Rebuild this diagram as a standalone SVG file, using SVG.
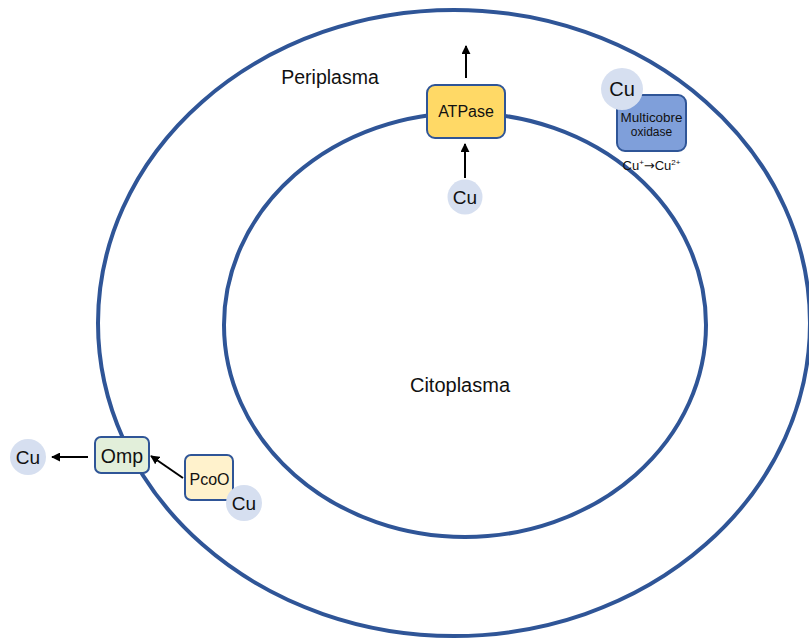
<svg xmlns="http://www.w3.org/2000/svg" width="809" height="640" viewBox="0 0 809 640">
<defs>
<style>
.mem{fill:none;stroke:#2F5597;stroke-width:4}
.box{stroke:#2F5597;stroke-width:2}
.cu{fill:#D6DFF0}
.t{font-family:"Liberation Sans",Arial,sans-serif;fill:#111;text-anchor:middle}
.con{stroke:#000;stroke-width:2;fill:none;marker-end:url(#ah)}
</style>
<marker id="ah" viewBox="0 0 10 10" refX="9" refY="5" markerWidth="4.5" markerHeight="4.5" orient="auto" markerUnits="strokeWidth">
<path d="M0,0 L10,5 L0,10 Z" fill="#000"/>
</marker>
</defs>
<rect width="809" height="640" fill="#fff"/>
<g id="membranes">
<ellipse class="mem" cx="454" cy="323" rx="356" ry="313"/>
<ellipse class="mem" cx="465" cy="325" rx="241" ry="212"/>
</g>
<g id="labels">
<text class="t" x="330" y="84" font-size="19.5">Periplasma</text>
<text class="t" x="460" y="392" font-size="20">Citoplasma</text>
</g>
<g id="connectors">
<line class="con" x1="466" y1="78" x2="466" y2="46"/>
<line class="con" x1="465" y1="178" x2="465" y2="144"/>
<line class="con" x1="88" y1="457" x2="52" y2="457"/>
<line class="con" x1="183" y1="478" x2="151" y2="456"/>
</g>
<g id="atpase">
<rect class="box" x="427" y="85" width="78" height="53" rx="8" fill="#FFD966"/>
<text class="t" x="466" y="117" font-size="16">ATPase</text>
</g>
<g id="cu-atpase">
<circle class="cu" cx="465" cy="197" r="17.5"/>
<text class="t" x="465" y="204" font-size="19">Cu</text>
</g>
<g id="multicobre">
<rect class="box" x="617" y="95" width="69" height="56" rx="8" fill="#7F9FDA"/>
<text class="t" x="651.5" y="122" font-size="12" textLength="62" lengthAdjust="spacingAndGlyphs">Multicobre</text>
<text class="t" x="651.5" y="136" font-size="12">oxidase</text>
</g>
<g id="cu-multicobre">
<circle class="cu" cx="622" cy="89" r="21"/>
<text class="t" x="622" y="96" font-size="20">Cu</text>
</g>
<g id="reaction">
<text class="t" x="651.5" y="170" font-size="13">Cu<tspan font-size="8" dy="-5">+</tspan><tspan dy="5" font-family="DejaVu Sans">→</tspan><tspan>Cu</tspan><tspan font-size="8" dy="-5">2+</tspan></text>
</g>
<g id="omp">
<rect class="box" x="95" y="437" width="54" height="36" rx="6" fill="#E2EFDA"/>
<text class="t" x="122" y="463" font-size="19.5">Omp</text>
</g>
<g id="cu-out">
<circle class="cu" cx="28" cy="457" r="18"/>
<text class="t" x="28" y="464" font-size="19">Cu</text>
</g>
<g id="pcoo">
<rect class="box" x="185" y="455" width="48" height="45" rx="6" fill="#FFF2CC"/>
<text class="t" x="209.5" y="485" font-size="16">PcoO</text>
</g>
<g id="cu-pcoo">
<circle class="cu" cx="244" cy="503" r="18"/>
<text class="t" x="244" y="510" font-size="19">Cu</text>
</g>
</svg>
